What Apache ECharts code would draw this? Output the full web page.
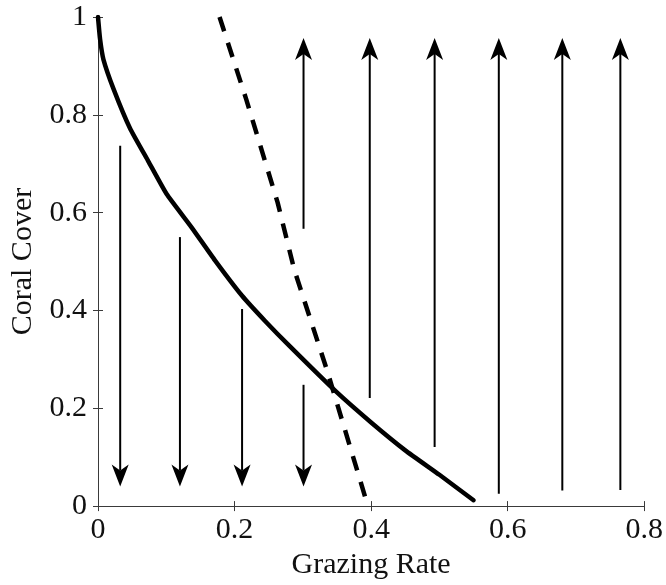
<!DOCTYPE html>
<html>
<head>
<meta charset="utf-8">
<script src="https://cdn.jsdelivr.net/npm/echarts@6/dist/echarts.min.js"></script>
<style>
  html, body { margin: 0; padding: 0; background: #fff; }
  #chart { width: 666px; height: 585px; }
</style>
</head>
<body>
<div id="chart"></div>
<script>
// Coral cover equilibrium (solid) and threshold (dashed) against grazing rate
var equilibriumX = [0, 0.003, 0.008, 0.023, 0.047, 0.0737, 0.1005, 0.137, 0.171, 0.211, 0.245, 0.28, 0.348, 0.40, 0.45, 0.50, 0.55];
var equilibriumY = [1.0, 0.955, 0.913, 0.852, 0.772, 0.705, 0.638, 0.570, 0.503, 0.430, 0.378, 0.328, 0.235, 0.171, 0.114, 0.064, 0.012];

var thresholdX = [0.178, 0.217, 0.263, 0.2875, 0.336, 0.391];
var thresholdY = [1.0, 0.832, 0.621, 0.483, 0.275, 0.02];

// Vector field arrows: coral cover declines below / left, rises to the right
var downArrowX = [0.0325, 0.120, 0.211, 0.301];
var downArrowFrom = [0.737, 0.550, 0.403, 0.248];
var downArrowTo = [0.040, 0.040, 0.040, 0.040];

var upArrowX = [0.301, 0.398, 0.493, 0.587, 0.680, 0.765];
var upArrowFrom = [0.567, 0.221, 0.121, 0.025, 0.032, 0.033];
var upArrowTo = [0.957, 0.957, 0.957, 0.957, 0.957, 0.957];

var xTicks = [0, 0.2, 0.4, 0.6, 0.8];
var yTicks = [0, 0.2, 0.4, 0.6, 0.8, 1];

function zip(a, b) { return a.map(function (v, i) { return [v, b[i]]; }); }

var arrowData = []
  .concat(downArrowX.map(function (x, i) { return [x, downArrowFrom[i], downArrowTo[i]]; }))
  .concat(upArrowX.map(function (x, i) { return [x, upArrowFrom[i], upArrowTo[i]]; }));

var FONT = '"Liberation Serif", "Times New Roman", serif';
var INK = '#000';
var FRAME = '#3a3a3a';

function renderArrow(params, api) {
  var p0 = api.coord([api.value(0), api.value(1)]);
  var p1 = api.coord([api.value(0), api.value(2)]);
  var dx = p1[0] - p0[0], dy = p1[1] - p0[1];
  var len = Math.sqrt(dx * dx + dy * dy) || 1;
  var ux = dx / len, uy = dy / len;      // unit vector toward tip
  var nx = -uy, ny = ux;                 // normal
  var headLen = 22, halfW = 8.5, notch = 16;
  var back = [p1[0] - ux * headLen, p1[1] - uy * headLen];
  var notchPt = [p1[0] - ux * notch, p1[1] - uy * notch];
  return {
    type: 'group',
    children: [
      {
        type: 'line',
        shape: { x1: p0[0], y1: p0[1], x2: notchPt[0], y2: notchPt[1] },
        style: { stroke: INK, lineWidth: 2 }
      },
      {
        type: 'polygon',
        shape: {
          points: [
            p1,
            [back[0] + nx * halfW, back[1] + ny * halfW],
            notchPt,
            [back[0] - nx * halfW, back[1] - ny * halfW]
          ]
        },
        style: { fill: INK }
      }
    ]
  };
}

var labelStyle = { fontFamily: FONT, fontSize: 30, color: '#111' };

var option = {
  backgroundColor: '#fff',
  animation: false,
  grid: { left: 98, top: 17, right: 19, bottom: 72, containLabel: false },
  xAxis: [
    {
      type: 'value', min: 0, max: 0.8, interval: 0.2, position: 'bottom',
      name: 'Grazing Rate', nameLocation: 'middle', nameGap: 33,
      nameTextStyle: { fontFamily: FONT, fontSize: 30, color: '#111' },
      axisLine: { show: true, lineStyle: { color: FRAME, width: 1 } },
      axisTick: { show: true, inside: true, length: 5, lineStyle: { color: FRAME } },
      axisLabel: Object.assign({ margin: 9 }, labelStyle),
      splitLine: { show: false }
    },
    {
      type: 'value', min: 0, max: 0.8, interval: 0.2, position: 'top',
      axisLine: { show: true, lineStyle: { color: FRAME, width: 1 } },
      axisTick: { show: true, inside: true, length: 5, lineStyle: { color: FRAME } },
      axisLabel: { show: false },
      splitLine: { show: false }
    }
  ],
  yAxis: [
    {
      type: 'value', min: 0, max: 1, interval: 0.2, position: 'left',
      name: 'Coral Cover', nameLocation: 'middle', nameGap: 55,
      nameTextStyle: { fontFamily: FONT, fontSize: 30, color: '#111' },
      axisLine: { show: true, lineStyle: { color: FRAME, width: 1 } },
      axisTick: { show: true, inside: true, length: 5, lineStyle: { color: FRAME } },
      axisLabel: Object.assign({ margin: 11 }, labelStyle),
      splitLine: { show: false }
    },
    {
      type: 'value', min: 0, max: 1, interval: 0.2, position: 'right',
      axisLine: { show: true, lineStyle: { color: FRAME, width: 1 } },
      axisTick: { show: true, inside: true, length: 5, lineStyle: { color: FRAME } },
      axisLabel: { show: false },
      splitLine: { show: false }
    }
  ],
  series: [
    {
      name: 'equilibrium', type: 'line', xAxisIndex: 0, yAxisIndex: 0,
      data: zip(equilibriumX, equilibriumY),
      smooth: 0.15, showSymbol: false, symbol: 'none',
      lineStyle: { color: INK, width: 4.5, cap: 'round', join: 'round' },
      z: 3
    },
    {
      name: 'threshold', type: 'line', xAxisIndex: 0, yAxisIndex: 0,
      data: zip(thresholdX, thresholdY),
      showSymbol: false, symbol: 'none',
      lineStyle: { color: INK, width: 4.5, type: [15, 12], cap: 'butt' },
      z: 3
    },
    {
      name: 'arrows', type: 'custom', xAxisIndex: 0, yAxisIndex: 0,
      data: arrowData,
      encode: { x: 0, y: [1, 2] },
      renderItem: renderArrow,
      clip: false,
      z: 2
    }
  ]
};

var chart = echarts.init(document.getElementById('chart'), null, { renderer: 'canvas' });
chart.setOption(option);
</script>
</body>
</html>
